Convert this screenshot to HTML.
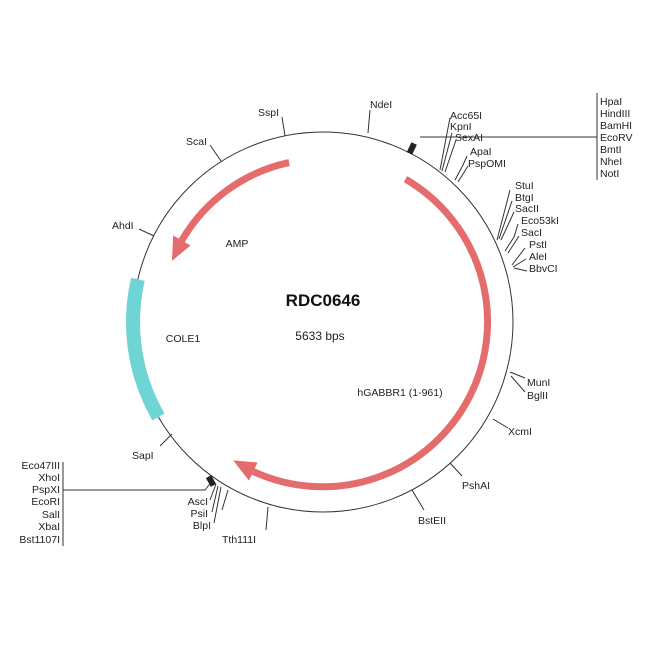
<!DOCTYPE html>
<html><head><meta charset="utf-8"><style>body{margin:0;background:#fff}svg{display:block}text{font-family:"Liberation Sans",sans-serif;font-size:10.5px;fill:#222}</style></head><body>
<svg width="650" height="650" viewBox="0 0 650 650">
<circle cx="323" cy="322" r="190" fill="none" stroke="#333" stroke-width="1"/>
<path d="M137.9,279.3 A190,190 0 0 0 158.5,417" fill="none" stroke="#6fd4d4" stroke-width="14"/>
<path d="M289.1,162.6 A163,163 0 0 0 181.8,240.5" fill="none" stroke="#e46c6c" stroke-width="7"/>
<polygon points="190.5,245.5 173.2,235.5 171.9,260.9" fill="#e46c6c"/>
<path d="M405.5,179.1 A165,165 0 0 1 253.3,471.5" fill="none" stroke="#e46c6c" stroke-width="7"/>
<polygon points="257.5,462.5 249,480.6 233.1,460.4" fill="#e46c6c"/>
<g stroke="#333" stroke-width="1" fill="none">
<path d="M368,133 L370,110"/><path d="M285,136 L282,117"/><path d="M221,161 L210,145"/><path d="M154,236 L139,229"/>
<path d="M172,434 L160,446"/><path d="M268,507 L266,530"/><path d="M412,490 L424,510"/><path d="M450,463 L462,476"/><path d="M493,419 L508,428"/>
<path d="M510,372 L525,378 M511,376 L525,392"/>
<path d="M440,170 L448,128 L450,118 M442,171 L452,133 M445,172 L456,140"/>
<path d="M455,180 L463,165 L467,156 M458,182 L468,166"/>
<path d="M497,240 L510,190 M499,239 L512,201 M501,240 L514,212"/>
<path d="M505,251 L514,237 L518,224 M508,253 L519,236"/>
<path d="M512,265 L525,248 M513,267 L526,259 M514,268 L527,271"/>
<path d="M420,137 L597,137 M597,93 L597,180"/>
<path d="M63,490 L205,490 L213,480 M63,462 L63,546"/>
<path d="M216,484 L210,500 M218,486 L212,512 M221,487 L214,523 M228,490 L222,510"/>
</g>
<rect x="409" y="143" width="6" height="11" fill="#222" transform="rotate(25 412 148)"/>
<rect x="208" y="476" width="6" height="10" fill="#222" transform="rotate(-30 211 481)"/>
<text x="370" y="108">NdeI</text><text x="258" y="116">SspI</text><text x="186" y="145">ScaI</text><text x="112" y="229">AhdI</text>
<text x="132" y="459">SapI</text><text x="222" y="543">Tth111I</text><text x="418" y="524">BstEII</text><text x="462" y="489">PshAI</text><text x="508" y="435">XcmI</text>
<text x="527" y="386">MunI</text><text x="527" y="399">BglII</text>
<text x="450" y="119">Acc65I</text><text x="450" y="130">KpnI</text><text x="455" y="141">SexAI</text><text x="470" y="155">ApaI</text><text x="468" y="167">PspOMI</text>
<text x="515" y="189">StuI</text><text x="515" y="201">BtgI</text><text x="515" y="212">SacII</text><text x="521" y="224">Eco53kI</text><text x="521" y="236">SacI</text><text x="529" y="248">PstI</text><text x="529" y="260">AleI</text><text x="529" y="272">BbvCI</text>
<g><text x="600" y="105">HpaI</text><text x="600" y="117">HindIII</text><text x="600" y="129">BamHI</text><text x="600" y="141">EcoRV</text><text x="600" y="153">BmtI</text><text x="600" y="165">NheI</text><text x="600" y="177">NotI</text></g>
<g text-anchor="end"><text x="60" y="469">Eco47III</text><text x="60" y="481">XhoI</text><text x="60" y="493">PspXI</text><text x="60" y="505">EcoRI</text><text x="60" y="518">SalI</text><text x="60" y="530">XbaI</text><text x="60" y="543">Bst1107I</text>
<text x="208" y="505">AscI</text><text x="208" y="517">PsiI</text><text x="211" y="529">BlpI</text></g>
<text x="323" y="306" text-anchor="middle" style="font-size:17px;font-weight:bold;fill:#111">RDC0646</text>
<text x="320" y="340" text-anchor="middle" style="font-size:12px">5633 bps</text>
<text x="183" y="342" text-anchor="middle">COLE1</text>
<text x="237" y="247" text-anchor="middle">AMP</text>
<text x="400" y="396" text-anchor="middle">hGABBR1 (1-961)</text>
</svg></body></html>
